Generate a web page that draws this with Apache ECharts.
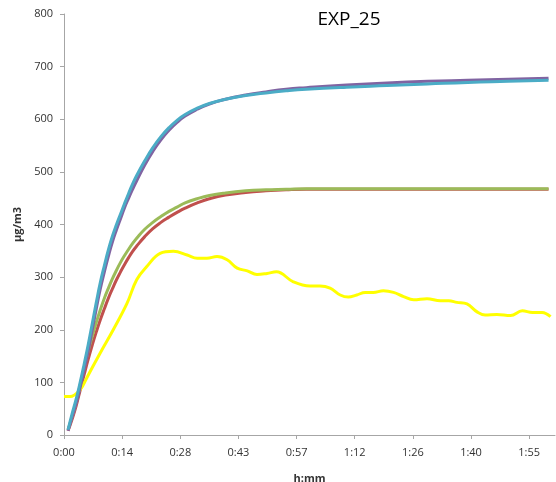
<!DOCTYPE html>
<html>
<head>
<meta charset="utf-8">
<script src="https://cdn.jsdelivr.net/npm/echarts@6/dist/echarts.min.js"></script>
<style>
html, body { margin: 0; padding: 0; background: #fff; }
#chart { width: 556px; height: 482px; }
</style>
</head>
<body>
<div id="chart"></div>
<script>
// time in minutes, values in µg/m3
var tSmooth = [1, 2, 3, 4, 5, 6, 7, 8, 9, 10, 11, 12, 13, 14, 15, 16, 17, 18, 20, 22, 24, 26, 28, 30, 33, 36, 40, 45, 50, 55, 60, 70, 80, 90, 100, 110, 120];
var purpleVals = [8, 34, 60, 90, 125, 160, 200, 240, 278, 310, 340, 367, 390, 411, 432, 450, 467, 483, 513, 539, 561, 579, 594, 606, 619, 629, 638, 646, 652, 657, 660, 665, 669, 672, 674, 676, 678];
var aquaVals = [10, 40, 68, 100, 135, 172, 212, 252, 290, 322, 352, 378, 400, 420, 440, 459, 477, 493, 521, 546, 567, 584, 598, 609, 621, 630, 638, 645, 650, 654, 657, 661, 664, 667, 670, 672, 674];
var greenVals = [10, 35, 62, 95, 128, 160, 188, 214, 238, 260, 279, 297, 313, 328, 341, 353, 364, 374, 391, 404, 415, 425, 433, 441, 449, 455, 460, 464, 466, 467, 468, 468, 468, 468, 468, 468, 468];
var redVals = [8, 30, 55, 85, 115, 144, 171, 196, 219, 240, 260, 278, 295, 310, 324, 337, 349, 359, 377, 392, 404, 414, 423, 431, 441, 449, 456, 461, 464, 466, 467, 467, 467, 467, 467, 467, 467];

var tYellow = [0, 1.5, 4, 5.6, 8.9, 12.2, 15.6, 18, 20.5, 23.8, 27.1, 30.5, 33, 35.4, 37.9, 40.4, 42.9, 45.4, 47.8, 50.3, 52.6, 56.8, 60.9, 63.4, 65.9, 68.4, 70.4, 72.5, 74.6, 76.6, 79.1, 81.6, 84.1, 86.6, 89.9, 93.2, 95.3, 97.3, 99.8, 102.3, 104.3, 107.2, 110.6, 113.5, 116, 118.4, 120.5];
var yellowVals = [73, 73, 86, 108, 155, 200, 250, 295, 320, 345, 349, 342, 336, 336, 339, 333, 317, 312, 305, 307, 310, 291, 283, 283, 279, 266, 262, 266, 271, 271, 274, 271, 263, 257, 259, 255, 255, 252, 249, 234, 228, 229, 227, 236, 233, 233, 225];

var yTicks = [0, 100, 200, 300, 400, 500, 600, 700, 800];

function pairs(ts, vs) {
    return ts.map(function (t, i) { return [t, vs[i]]; });
}
function hmm(v) {
    var m = Math.floor(v + 1e-6);
    var h = Math.floor(m / 60);
    var mm = m % 60;
    return h + ':' + (mm < 10 ? '0' : '') + mm;
}

function line(name, color, data, smooth) {
    return {
        name: name,
        type: 'line',
        data: data,
        showSymbol: false,
        smooth: smooth,
        lineStyle: { color: color, width: 3 },
        itemStyle: { color: color }
    };
}

var option = {
    animation: false,
    title: {
        text: 'EXP_25',
        left: 344,
        top: 5,
        textAlign: 'center',
        textStyle: { color: '#000', fontSize: 19, fontWeight: 'normal', fontFamily: 'Open Sans' }
    },
    grid: { left: 64, right: 1, top: 14, bottom: 47, containLabel: false, outerBoundsMode: 'none' },
    xAxis: {
        type: 'value',
        min: 0,
        max: 121.6,
        interval: 14.4,
        name: 'h:mm',
        nameLocation: 'middle',
        nameGap: 38,
        nameTextStyle: { color: '#333', fontSize: 11, fontWeight: 'bold', fontFamily: 'Open Sans' },
        splitLine: { show: false },
        axisLine: { lineStyle: { color: '#a6a6a6' } },
        axisTick: { length: 4, lineStyle: { color: '#a6a6a6' } },
        axisLabel: {
            color: '#333', fontSize: 11, fontFamily: 'Open Sans', margin: 12,
            showMaxLabel: false,
            formatter: hmm
        }
    },
    yAxis: {
        type: 'value',
        min: yTicks[0],
        max: yTicks[yTicks.length - 1],
        interval: 100,
        name: 'µg/m3',
        nameLocation: 'middle',
        nameGap: 34,
        nameTextStyle: { color: '#333', fontSize: 11, fontWeight: 'bold', fontFamily: 'Open Sans' },
        splitLine: { show: false },
        axisLine: { show: true, lineStyle: { color: '#a6a6a6' } },
        axisTick: { show: true, length: 4, lineStyle: { color: '#a6a6a6' } },
        axisLabel: { color: '#333', fontSize: 11, fontFamily: 'Open Sans', margin: 11 }
    },
    series: [
        line('red', '#C0504D', pairs(tSmooth, redVals), true),
        line('green', '#9BBB59', pairs(tSmooth, greenVals), true),
        line('yellow', '#FFFF00', pairs(tYellow, yellowVals), 0.4),
        line('purple', '#8064A2', pairs(tSmooth, purpleVals), true),
        line('aqua', '#4BACC6', pairs(tSmooth, aquaVals), true)
    ]
};
var myecharts = echarts.init(document.getElementById('chart'));
myecharts.setOption(option);
</script>
</body>
</html>
